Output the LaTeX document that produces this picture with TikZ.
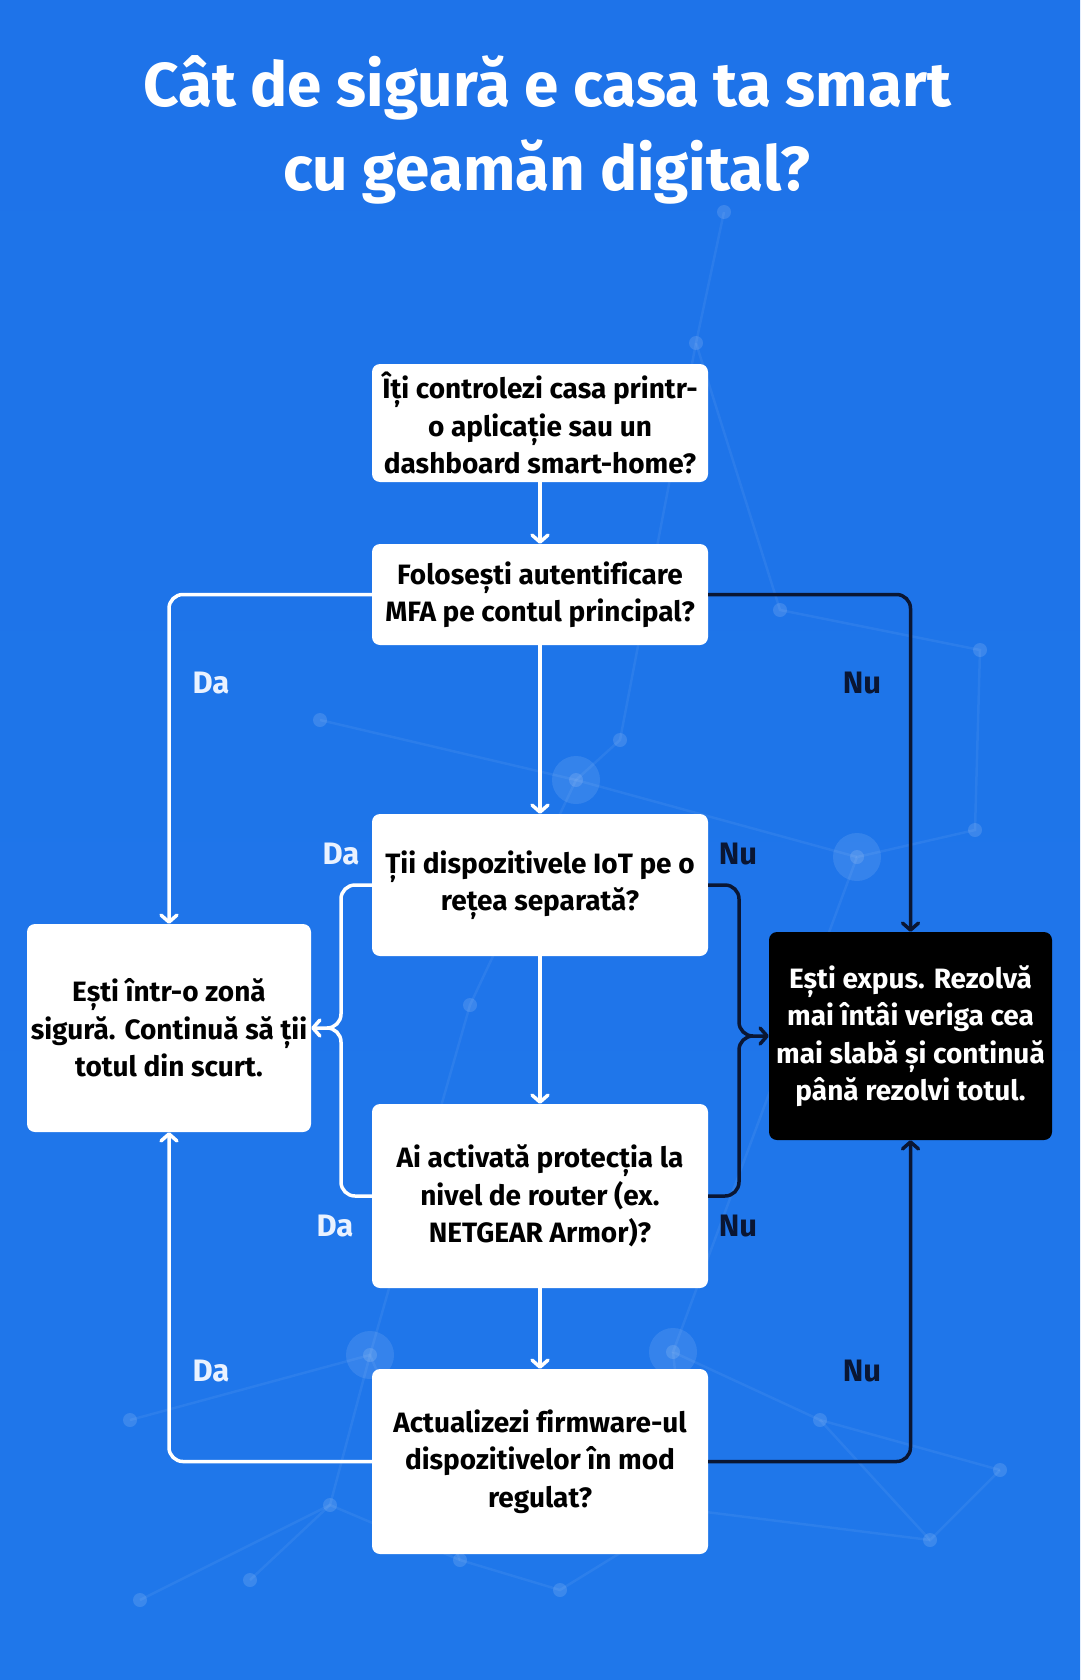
\documentclass[tikz,border=0pt]{standalone}
\usepackage{fontspec}
\setmainfont{Fira Sans}[Ligatures=NoCommon]
\usetikzlibrary{arrows.meta}
\definecolor{bgtop}{HTML}{1E73E9}
\definecolor{bgmid}{HTML}{378BF2}
\definecolor{bgbot}{HTML}{1F77EA}
\definecolor{navy}{HTML}{0A1633}
\definecolor{dawhite}{HTML}{EAF2FF}
\tikzset{
  qbox/.style={rectangle, rounded corners=8pt, fill=white, text=black, align=center,
    minimum width=336pt, inner sep=0pt, font=\fontsize{28}{37.5}\selectfont\bfseries},
  endbox/.style={rectangle, rounded corners=8pt, align=center, minimum width=284pt,
    minimum height=208pt, inner sep=0pt, font=\fontsize{28}{37.5}\selectfont\bfseries},
  wline/.style={draw=white, line width=3.5pt, rounded corners=14pt},
  dline/.style={draw=navy, line width=3.5pt, rounded corners=14pt},
  tip/.style={-{Straight Barb[length=7pt,width=16pt,round]}},
  dalab/.style={text=dawhite, font=\fontsize{31}{34}\selectfont\bfseries},
  nulab/.style={text=navy, font=\fontsize{31}{34}\selectfont\bfseries},
  titletext/.style={text=white, anchor=base, font=\fontsize{62}{84}\selectfont\bfseries},
  net/.style={draw=white, draw opacity=0.06, line width=2.5pt},
  dot/.style={fill=white, fill opacity=0.13}
}
\begin{document}
\begin{tikzpicture}[x=1pt,y=-1pt]
\useasboundingbox (0,0) rectangle (1080,1680);
\shade[top color=bgtop, middle color=bgmid, bottom color=bgbot] (0,0) rectangle (1080,1680);
% faint background network
\foreach \a/\b in {724/212, 696/343, 576/780, 857/857, 370/1355, 673/1352, 470/1005, 320/720, 620/740, 980/650, 975/830, 130/1420, 330/1505, 820/1420, 930/1540, 250/1580, 560/1590, 1000/1470, 780/610, 140/1600, 460/1560, 690/1510}
  \fill[dot] (\a,\b) circle (7pt);
\foreach \a/\b in {576/780, 857/857, 370/1355, 673/1352}
  \fill[white, fill opacity=0.10] (\a,\b) circle (24pt);
\draw[net] (724,212) -- (696,343) -- (780,610) -- (980,650) -- (975,830) -- (857,857) -- (673,1352) -- (820,1420) -- (1000,1470);
\draw[net] (696,343) -- (620,740) -- (576,780) -- (470,1005) -- (370,1355) -- (330,1505) -- (250,1580);
\draw[net] (320,720) -- (576,780) -- (857,857);
\draw[net] (130,1420) -- (370,1355) -- (460,1560) -- (560,1590) -- (690,1510) -- (673,1352);
\draw[net] (820,1420) -- (930,1540) -- (1000,1470);
\draw[net] (140,1600) -- (330,1505) -- (460,1560);
\draw[net] (690,1510) -- (930,1540);
% title
\node[titletext] (title1) at (547,107) {Cât de sigură e casa ta smart};
\node[titletext] (title2) at (547,191) {cu geamăn digital?};
% question boxes
\node[qbox, minimum height=118pt] (b1) at (540,423) {Îți controlezi casa printr-\\o aplicație sau un\\dashboard smart-home?};
\node[qbox, minimum height=101pt] (b2) at (540,594.5) {Folosești autentificare\\MFA pe contul principal?};
\node[qbox, minimum height=142pt] (b3) at (540,885) {Ții dispozitivele IoT pe o\\rețea separată?};
\node[qbox, minimum height=184pt] (b4) at (540,1196) {Ai activată protecția la\\nivel de router (ex.\\NETGEAR Armor)?};
\node[qbox, minimum height=185pt] (b5) at (540,1461.5) {Actualizezi firmware-ul\\dispozitivelor în mod\\regulat?};
% end boxes
\node[endbox, fill=white, text=black] (safe) at (169,1028) {Ești într-o zonă\\sigură. Continuă să ții\\totul din scurt.};
\node[endbox, fill=black, text=white, minimum width=283pt] (exposed) at (910.5,1036) {Ești expus. Rezolvă\\mai întâi veriga cea\\mai slabă și continuă\\până rezolvi totul.};
% junction coordinates
\coordinate (jL) at (341,1028);
\coordinate (jR) at (739,1036);
% main vertical flow
\draw[wline, tip] (b1) -- (b2);
\draw[wline, tip] (b2) -- (b3);
\draw[wline, tip] (b3) -- (b4);
\draw[wline, tip] (b4) -- (b5);
% MFA branches
\draw[wline, tip] (b2.west) -| (safe.north);
\draw[dline, tip] (b2.east) -| (exposed.north);
% IoT / router branches
\draw[wline] (b3.west) -| (jL) -- ++(-12,0);
\draw[wline, tip] (b4.west) -| (jL) -- (safe.east);
\draw[dline] (b3.east) -| (jR) -- ++(12,0);
\draw[dline, tip] (b4.east) -| (jR) -- (exposed.west);
% firmware branches
\draw[wline, tip] (b5.west) -| (safe.south);
\draw[dline, tip] (b5.east) -| (exposed.south);
% labels
\node[dalab] (l1) at (211,683) {Da};
\node[nulab] (l2) at (862,683) {Nu};
\node[dalab] (l3) at (341,854) {Da};
\node[nulab] (l4) at (738,854) {Nu};
\node[dalab] (l5) at (335,1226) {Da};
\node[nulab] (l6) at (738,1226) {Nu};
\node[dalab] (l7) at (211,1371) {Da};
\node[nulab] (l8) at (862,1371) {Nu};
\end{tikzpicture}
\end{document}
